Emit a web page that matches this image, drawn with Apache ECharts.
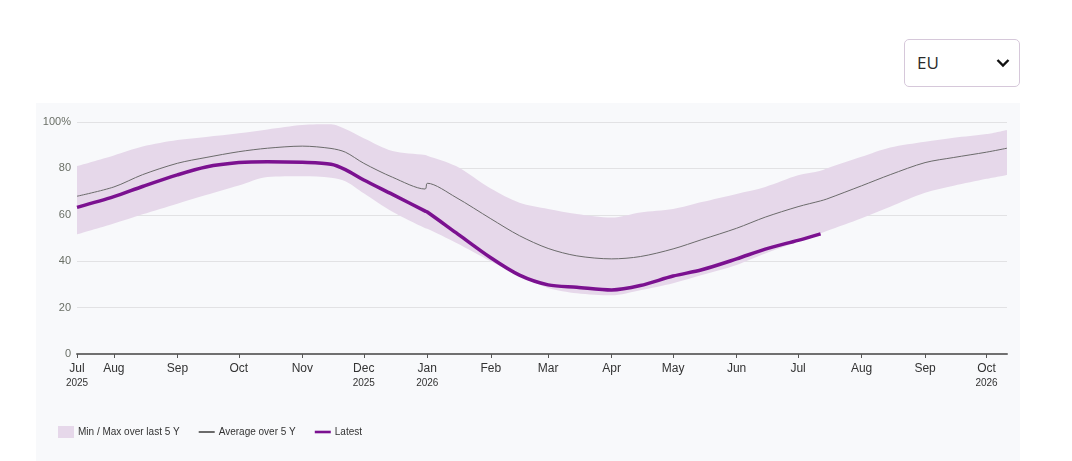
<!DOCTYPE html>
<html>
<head>
<meta charset="utf-8">
<script src="https://cdn.jsdelivr.net/npm/echarts@6/dist/echarts.min.js"></script>
<style>
  html, body { margin: 0; padding: 0; background: #fff; }
  #wrap { position: relative; width: 1072px; height: 461px; font-family: "Liberation Sans", Arial, sans-serif; }
  #panel { position: absolute; left: 36px; top: 103px; width: 984px; height: 358px; background: #f8f9fb; }
  #chart { position: absolute; left: 0; top: 0; width: 1072px; height: 461px; }
  #picker {
    position: absolute; left: 904px; top: 39px; width: 116px; height: 48px;
    border: 1px solid #d6c8da; border-radius: 5px; background: #fff; box-sizing: border-box;
  }
  #picker span { position: absolute; left: 12px; top: 11px; font-size: 17px; color: #2b2b2b; font-family: "Open Sans", "Liberation Sans", sans-serif; }
  #picker svg { position: absolute; left: 91px; top: 18px; }
</style>
</head>
<body>
<div id="wrap">
  <div id="panel"></div>
  <div id="chart"></div>
  <div id="picker"><span>EU</span>
    <svg width="14" height="10" viewBox="0 0 14 10"><polyline points="1.5,2 7,7.5 12.5,2" fill="none" stroke="#111" stroke-width="2.4"/></svg>
  </div>
</div>
<script>
// sample dates
var dates = ['2025-07-14','2025-08-01','2025-08-15','2025-09-01','2025-09-15','2025-10-01','2025-10-15',
  '2025-11-01','2025-11-15','2025-11-22','2025-12-01','2025-12-15','2025-12-31','2026-01-01','2026-01-15',
  '2026-02-01','2026-02-15','2026-03-01','2026-03-15','2026-04-01','2026-04-15','2026-05-01','2026-05-15',
  '2026-06-01','2026-06-15','2026-07-01','2026-07-12','2026-07-15','2026-08-01','2026-08-15','2026-09-01',
  '2026-09-15','2026-10-01','2026-10-11'];

// max over last 5 years (%)
var upperBand = [81, 85.6, 89.4, 92.2, 93.5, 95.1, 96.8,
  98.7, 99, 97, 93, 87.5, 85.8, 85.5, 81,
  71.3, 65.2, 62.5, 60.3, 58.8, 61, 62.5, 65.5,
  69, 72, 77, 79, 80, 85, 89, 91.5,
  93.2, 94.8, 96.6];

// min over last 5 years (%)
var lowerBand = [51.5, 56.2, 60.2, 64.8, 68.5, 72.6, 76.3,
  76.6, 76, 74.5, 69.3, 61.3, 54.2, 54, 48,
  40, 33.7, 28.5, 26.2, 25.3, 27.5, 30.5, 34,
  38.4, 43.3, 48.5, 52, 53, 58.5, 63.5, 69.5,
  72.5, 75.5, 77.2];

// average over 5 years (%)
var average = [68, 72, 77.3, 82.2, 84.7, 87.2, 88.7,
  89.6, 88.6, 87, 82.2, 76.2, 71.1, 73.6, 67.5,
  58.3, 51, 45.5, 42.3, 41, 42, 45.3, 49.3,
  54.2, 59, 63.5, 66, 66.8, 72.5, 77.3, 82.5,
  84.7, 87, 88.7];

// latest (%), ends 2026-07-12
var latest = [63.2, 67.8, 72.2, 77.2, 80.6, 82.5, 82.9,
  82.6, 81.8, 79.5, 75, 68.8, 61.6, 61.2, 52.3,
  41.5, 34, 29.8, 28.8, 27.6, 29.5, 33.6, 36.3,
  41, 45.2, 49, 51.8];

var axisMin = '2025-07-14';
var axisMax = '2026-10-11';
var monthTicks = ['2025-07-14','2025-08-01','2025-09-01','2025-10-01','2025-11-01','2025-12-01','2026-01-01',
  '2026-02-01','2026-03-01','2026-04-01','2026-05-01','2026-06-01','2026-07-01','2026-08-01',
  '2026-09-01','2026-10-01'];
var yearShown = ['2025-07-14','2025-12-01','2026-01-01','2026-10-01'];
var monthNames = ['Jan','Feb','Mar','Apr','May','Jun','Jul','Aug','Sep','Oct','Nov','Dec'];

function ts(d) { return new Date(d + 'T00:00:00Z').getTime(); }

var tickVals = monthTicks.map(ts);
var yearVals = yearShown.map(ts);

function pairs(arr) {
  return arr.map(function (v, i) { return [ts(dates[i]), v]; });
}
var bandSpan = upperBand.map(function (u, i) { return +(u - lowerBand[i]).toFixed(2); });

var chart = echarts.init(document.getElementById('chart'), null, { renderer: 'canvas' });
chart.setOption({
  animation: false,
  textStyle: { fontFamily: '"Liberation Sans", Arial, sans-serif' },
  grid: { left: 77, right: 65, top: 122, bottom: 107, containLabel: false },
  legend: {
    left: 53, top: 421,
    itemWidth: 16, itemHeight: 12, itemGap: 19,
    textStyle: { fontSize: 10, color: '#333', padding: [0, 0, 0, -1] },
    data: [
      { name: 'Min / Max over last 5 Y', icon: 'rect' },
      { name: 'Average over 5 Y', icon: 'path://M0 0H16V2H0Z' },
      { name: 'Latest', icon: 'path://M0 0H16V2.6H0Z' }
    ]
  },
  xAxis: [{
    // data axis
    type: 'time',
    min: ts(axisMin),
    max: ts(axisMax),
    axisLine: { lineStyle: { color: '#707070', width: 2 } },
    axisTick: { show: false },
    axisLabel: { show: false },
    splitLine: { show: false }
  }, {
    // month labels
    type: 'value',
    position: 'bottom',
    offset: 0,
    min: ts(axisMin),
    max: ts(axisMax),
    axisLine: { show: false },
    axisTick: { show: true, length: 4, customValues: tickVals, lineStyle: { color: '#555', width: 1 } },
    splitLine: { show: false },
    axisLabel: {
      customValues: tickVals,
      margin: 8,
      hideOverlap: false,
      formatter: function (v) {
        var d = new Date(v);
        var m = monthNames[d.getUTCMonth()];
        if (yearVals.indexOf(v) >= 0) return '{m|' + m + '}\n{y|' + d.getUTCFullYear() + '}';
        return '{m|' + m + '}';
      },
      rich: {
        m: { fontSize: 12, color: '#333', lineHeight: 14 },
        y: { fontSize: 10, color: '#333', lineHeight: 14 }
      }
    }
  }],
  yAxis: {
    type: 'value',
    min: 0, max: 100, interval: 20,
    axisLine: { show: false },
    axisTick: { show: false },
    axisLabel: {
      fontSize: 11, color: '#6a6f66', margin: 6,
      formatter: function (v) { return v === 100 ? '100%' : v; }
    },
    splitLine: { lineStyle: { color: '#e2e2e4', width: 1 } }
  },
  series: [
    {
      name: 'lowerBase',
      type: 'line',
      stack: 'band',
      data: pairs(lowerBand),
      symbol: 'none',
      smooth: 0.3,
      lineStyle: { opacity: 0 },
      silent: true,
      z: 1
    },
    {
      name: 'Min / Max over last 5 Y',
      type: 'line',
      stack: 'band',
      data: pairs(bandSpan),
      symbol: 'none',
      smooth: 0.3,
      color: '#e6d8ea',
      lineStyle: { opacity: 0, width: 0 },
      areaStyle: { color: '#e6d8ea', opacity: 1 },
      silent: true,
      z: 1
    },
    {
      name: 'Average over 5 Y',
      type: 'line',
      data: pairs(average),
      symbol: 'none',
      smooth: 0.3,
      color: '#6b6b6b',
      lineStyle: { color: '#6b6b6b', width: 1 },
      z: 3
    },
    {
      name: 'Latest',
      type: 'line',
      data: pairs(latest),
      symbol: 'none',
      smooth: 0.3,
      color: '#7b1190',
      lineStyle: { color: '#7b1190', width: 3.5 },
      z: 4
    }
  ]
});
</script>
</body>
</html>
